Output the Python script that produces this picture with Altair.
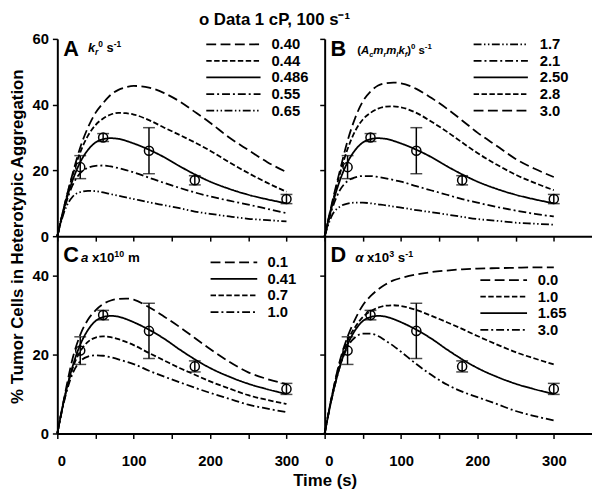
import altair as alt
import pandas as pd

FONT = "Liberation Sans"

# ---------------- data ----------------
T = [0, 10, 20, 30, 40, 50, 60, 70, 80, 90, 100, 120, 140, 160, 180, 200, 225, 250, 275, 300]

fit = [0, 9.5, 17, 22.5, 26.2, 28.5, 29.5, 29.8, 29.6, 29.0, 28.2, 26.3, 24.0, 21.3, 18.8, 16.6, 14.4, 12.6, 11.2, 10.0]

A_labels = ["0.40", "0.44", "0.486", "0.55", "0.65"]
A_040 = [0, 10, 19, 27, 33, 37.5, 40.5, 43, 44.5, 45.3, 45.7, 45.2, 43.5, 41, 37.8, 34.5, 30, 26.2, 22.5, 19.5]
A_044 = [0, 10, 18.5, 25.5, 30.5, 33.8, 35.8, 37, 37.5, 37.4, 37, 35.3, 33, 30.8, 28.5, 26, 22.5, 19.2, 16.2, 13.5]
A_0486 = fit
A_055 = [0, 9, 15.5, 19.2, 20.8, 21.4, 21.5, 21.2, 20.7, 20.1, 19.4, 17.8, 16.2, 14.7, 13.3, 12.1, 10.8, 9.6, 8.3, 7.0]
A_065 = [0, 8, 12, 13.4, 13.8, 13.7, 13.3, 12.8, 12.3, 11.8, 11.3, 10.3, 9.4, 8.5, 7.5, 6.8, 6.0, 5.3, 4.9, 4.5]

B_labels = ["1.7", "2.1", "2.50", "2.8", "3.0"]
B_17 = [0, 6.5, 9, 9.9, 10.2, 10.2, 10.0, 9.7, 9.4, 9.0, 8.7, 7.9, 7.3, 6.6, 5.9, 5.2, 4.7, 4.1, 3.8, 3.5]
B_21 = [0, 8.5, 14, 16.8, 17.9, 18.3, 18.3, 18.0, 17.6, 17.1, 16.6, 15.2, 13.9, 12.6, 11.3, 10.2, 8.9, 7.8, 6.8, 6.0]
B_250 = fit
B_28 = [0, 10, 19, 26.5, 32, 35.5, 37.5, 38.8, 39.4, 39.5, 39.2, 37.5, 34.8, 31.8, 28.5, 25.3, 21.8, 18.7, 16.2, 14]
B_30 = [0, 10.5, 20, 29, 36, 41, 44, 45.8, 46.5, 46.7, 46.5, 44.8, 42, 38.8, 35.2, 31.5, 27.5, 23.5, 20.5, 18]

C_labels = ["0.1", "0.41", "0.7", "1.0"]
C_01 = [0, 10, 19, 25, 28.8, 31.2, 32.8, 33.7, 34.1, 34.2, 33.9, 32, 29.6, 27, 24.2, 21.4, 18.2, 15.5, 13.8, 12.5]
C_041 = fit
C_07 = [0, 9.5, 16.5, 20.8, 23.2, 24.3, 24.6, 24.4, 23.9, 23.2, 22.4, 20.4, 18.5, 16.6, 14.9, 13.2, 11.4, 9.7, 8.5, 7.5]
C_10 = [0, 9, 15.2, 18.3, 19.5, 19.8, 19.7, 19.3, 18.8, 18.2, 17.6, 15.9, 14.4, 13.0, 11.6, 10.3, 8.8, 7.3, 6.3, 5.4]

D_labels = ["0.0", "1.0", "1.65", "3.0"]
D_00 = [0, 10, 18.5, 24.5, 29, 32.5, 34.8, 36.5, 37.8, 38.8, 39.4, 40.3, 40.9, 41.3, 41.6, 41.8, 41.9, 42, 42.1, 42.1]
D_10 = [0, 10, 18, 23.5, 27, 29.5, 31, 31.9, 32.4, 32.5, 32.3, 31.3, 29.8, 28.2, 26.5, 24.7, 22.6, 20.6, 19, 17.5]
D_165 = fit
D_30 = [0, 9.5, 17, 22, 24.4, 25.3, 25.3, 24.7, 23.5, 22.2, 20.7, 17.6, 14.8, 12.4, 10.6, 9.2, 7.5, 5.7, 4.4, 3.3]

# experimental data (same in every panel)
pt_t = [30, 60, 120, 180, 300]
pt_y = [21, 30, 26, 17, 11.3]
pt_lo = [17.5, 28.8, 19, 15.6, 9.9]
pt_hi = [24.5, 31.2, 33, 18.4, 12.7]

x_ticks = [0, 50, 100, 150, 200, 250, 300]
y_ticks_top = [0, 10, 20, 30, 40, 50, 60]
y_ticks_bot = [0, 10, 20, 30, 40, 50]

TITLE = "o  Data 1 cP, 100 s\u207b\u00b9"
Y_TITLE = "% Tumor Cells in Heterotypic Aggregation"
X_TITLE = "Time (s)"

# dash styles
LONG = [10, 4.5]
SHORT = [5.5, 2.5]
SOLID = [1, 0]
DD = [8, 3, 2, 3]
DDD = [8, 2.5, 1.5, 2.5, 1.5, 2.5]

# panel annotations: (text, size, italic, shift)
A_note = [("k", 13, True, 0), ("r", 8.5, True, 1), ("0", 8.5, False, -1), (" s", 13, False, 0), ("-1", 8.5, False, -1)]
B_note = [("(", 11.5, False, 0), ("A", 11.5, True, 0), ("c", 7.5, True, 1), ("m", 11.5, True, 0), ("r", 7.5, True, 1),
          ("m", 11.5, True, 0), ("l", 7.5, True, 1), ("k", 11.5, True, 0), ("f", 7.5, True, 1), (")", 11.5, False, 0),
          ("0", 8, False, -1), (" s", 11.5, False, 0), ("-1", 8, False, -1)]
C_note = [("a", 13.5, True, 0), (" x10", 13.5, False, 0), ("10", 9, False, -1), (" m", 13.5, False, 0)]
D_note = [("\u03b1", 13.5, True, 0), (" x10", 13.5, False, 0), ("3", 9, False, -1), (" s", 13.5, False, 0), ("-1", 9, False, -1)]

W = {'(': .333, ')': .333, 'A': .722, 'c': .556, 'm': .889, 'r': .389, 'l': .278, 'k': .556, 'f': .333,
     '0': .556, '1': .556, '3': .556, 's': .556, ' ': .278, '-': .333, 'x': .556, 'a': .556, '\u03b1': .6}

PW, PH = 271, 200


def text_width(s, size):
    return sum(W.get(ch, .556) for ch in s) * size


def note_layers(letter, lx, ly, segs, sx, sy):
    layers = [alt.Chart(pd.DataFrame({"t": [letter]})).mark_text(
        align="left", baseline="alphabetic", x=lx, y=ly, font=FONT, fontSize=22,
        fontWeight="bold", color="black").encode(text="t:N")]
    x = sx
    for txt, size, ital, shift in segs:
        lead = len(txt) - len(txt.lstrip(" "))
        x += lead * W[' '] * size
        txt = txt.lstrip(" ")
        y = sy + (3 if shift == 1 else (-5 if shift == -1 else 0))
        layers.append(alt.Chart(pd.DataFrame({"t": [txt]})).mark_text(
            align="left", baseline="alphabetic", x=x, y=y, font=FONT, fontSize=size,
            fontWeight="bold", fontStyle="italic" if ital else "normal", color="black").encode(text="t:N"))
        x += text_width(txt, size)
    return layers


AX = dict(domainColor="black", domainWidth=2, tickColor="black", tickWidth=1.5, tickSize=5, grid=False,
          labelFont=FONT, labelFontSize=15, labelFontWeight="bold", labelColor="black",
          titleFont=FONT, titleFontSize=17, titleFontWeight="bold", titleColor="black")


def panel(labels, series, dashes, ymax, xaxis, yaxis, leg, letter, letter_y, note, note_x, note_y, path):
    rows = []
    for lab, vals in zip(labels, series):
        for t, v in zip(T, vals):
            rows.append({"t": t, "v": v, "s": lab})
    df = pd.DataFrame(rows)
    xs = alt.Scale(domain=[0, 350], nice=False)
    ys = alt.Scale(domain=[0, ymax], nice=False)
    lines = alt.Chart(df).mark_line(color="black", strokeWidth=1.8, interpolate="monotone").encode(
        x=alt.X("t:Q", scale=xs, axis=xaxis),
        y=alt.Y("v:Q", scale=ys, axis=yaxis),
        strokeDash=alt.StrokeDash("s:N", scale=alt.Scale(domain=labels, range=dashes),
                                  legend=alt.Legend(orient="none", legendX=leg[0], legendY=leg[1], title=None,
                                                    symbolType=path, symbolSize=121, symbolStrokeWidth=1.8,
                                                    symbolStrokeColor="black", labelFont=FONT, labelFontSize=15,
                                                    labelFontWeight="bold", labelColor="black",
                                                    labelOffset=leg[2], rowPadding=0.8, padding=0)),
        detail="s:N")
    pdf = pd.DataFrame({"t": pt_t, "y": pt_y, "lo": pt_lo, "hi": pt_hi})
    base = alt.Chart(pdf)
    bars = base.mark_rule(color="black", strokeWidth=1.5).encode(x=alt.X("t:Q", scale=xs), y=alt.Y("lo:Q", scale=ys), y2="hi:Q")
    cap_lo = base.mark_tick(orient="horizontal", size=12, thickness=1.5, color="black").encode(
        x=alt.X("t:Q", scale=xs), y=alt.Y("lo:Q", scale=ys))
    cap_hi = base.mark_tick(orient="horizontal", size=12, thickness=1.5, color="black").encode(
        x=alt.X("t:Q", scale=xs), y=alt.Y("hi:Q", scale=ys))
    pts = base.mark_point(shape="circle", filled=False, size=85, stroke="black", strokeWidth=1.5, opacity=1).encode(
        x=alt.X("t:Q", scale=xs), y=alt.Y("y:Q", scale=ys))
    layers = [lines, bars, cap_lo, cap_hi, pts] + note_layers(letter, 6, letter_y, note, note_x, note_y)
    return alt.layer(*layers).properties(width=PW, height=PH)


lab20 = "datum.value % 20 === 0 ? datum.label : ''"
lab100 = "datum.value % 100 === 0 ? datum.label : ''"

ax_x_nolab = alt.Axis(values=x_ticks, labels=False, title=None, **AX)
ax_x_lab = alt.Axis(values=x_ticks, labelExpr=lab100, title=None, labelPadding=15, **AX)
ax_x_title = alt.Axis(values=x_ticks, labelExpr=lab100, title=X_TITLE, titleX=PW, titlePadding=5, labelPadding=15, **AX)
ax_yA = alt.Axis(values=y_ticks_top, labelExpr=lab20, title=Y_TITLE, titleY=PH, titlePadding=6, labelPadding=4, **AX)
ax_yB = alt.Axis(values=y_ticks_top, labels=False, title=None, **AX)
ax_yC = alt.Axis(values=y_ticks_bot, labelExpr=lab20, title=None, labelPadding=4, **AX)
ax_yD = alt.Axis(values=y_ticks_bot, labels=False, title=None, **AX)

pA = panel(A_labels, [A_040, A_044, A_0486, A_055, A_065], [LONG, SHORT, SOLID, DD, DDD], 60,
           ax_x_nolab, ax_yA, (171, -2, 31), "A", 17, A_note, 31, 13, "M-5,0H5")
pB = panel(B_labels, [B_17, B_21, B_250, B_28, B_30], [DDD, DD, SOLID, SHORT, LONG], 60,
           ax_x_nolab, ax_yB, (171, -2, 32), "B", 17, B_note, 33, 15, "M-5,0H5")
pC = panel(C_labels, [C_01, C_041, C_07, C_10], [LONG, SOLID, SHORT, DD], 50,
           ax_x_title, ax_yC, (171.5, 19, 26.5), "C", 26, C_note, 24, 26, "M-4.3,0H4.3")
pD = panel(D_labels, [D_00, D_10, D_165, D_30], [LONG, SHORT, SOLID, DD], 50,
           ax_x_lab, ax_yD, (174, 37, 27), "D", 26, D_note, 31, 26, "M-4.3,0H4.3")

chart = alt.concat(pA, pB, pC, pD, columns=2, spacing=0, bounds="flush").resolve_scale(
    x="independent", y="independent", strokeDash="independent").resolve_legend(
    strokeDash="independent").resolve_axis(x="independent", y="independent").properties(
    title=alt.TitleParams(text=TITLE, anchor="middle", font=FONT, fontSize=17, fontWeight="bold",
                          color="black", dx=-26, offset=3),
    padding={"left": 0, "top": 0, "right": 0, "bottom": 0}).configure_view(stroke=None)

chart.save("out.html", embed_options={"renderer": "svg", "actions": False})
